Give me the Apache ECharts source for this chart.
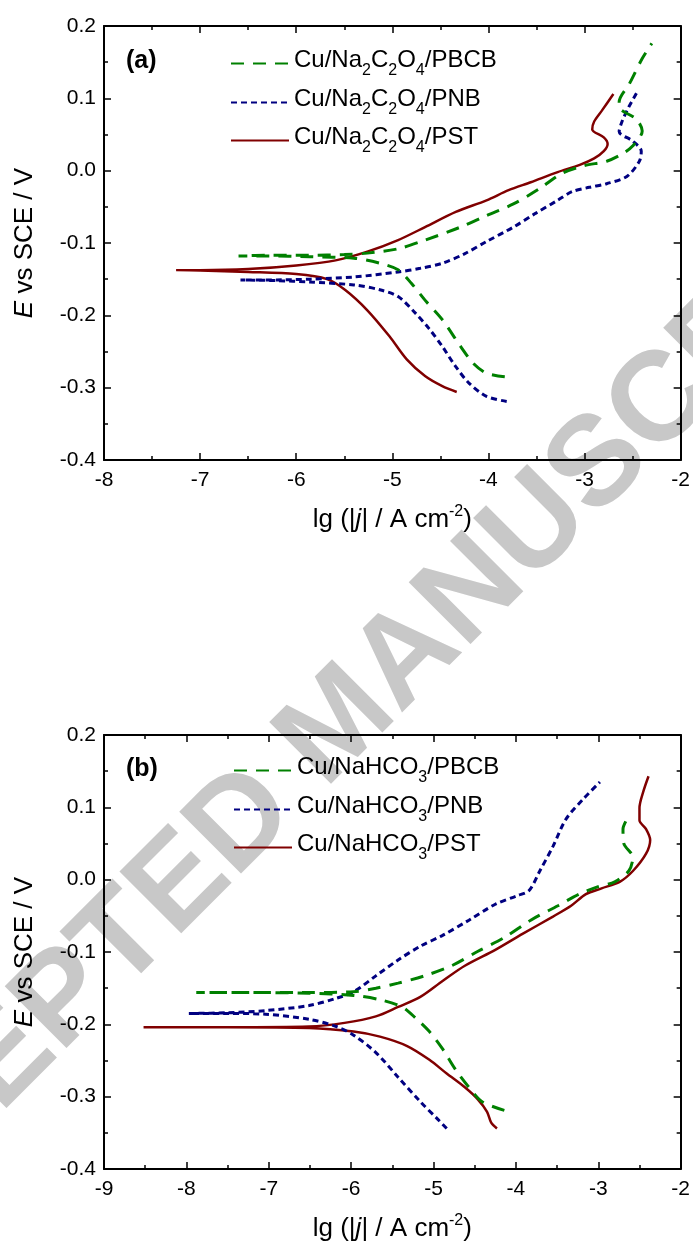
<!DOCTYPE html>
<html>
<head>
<meta charset="utf-8">
<script src="https://cdn.jsdelivr.net/npm/echarts@6/dist/echarts.min.js"></script>
<style>
html,body{margin:0;padding:0;background:#fff;}
#c{width:693px;height:1247px;}
</style>
</head>
<body>
<div id="c"></div>
<script>
// ---------- DATA ----------
// Panel (a): x = lg(|j| / A cm^-2), y = E vs SCE / V
const seriesNamesA = ['Cu/Na2C2O4/PBCB', 'Cu/Na2C2O4/PNB', 'Cu/Na2C2O4/PST'];
const seriesNamesB = ['Cu/NaHCO3/PBCB', 'Cu/NaHCO3/PNB', 'Cu/NaHCO3/PST'];

const a_PBCB = [[-3.83,-0.285],[-4.02,-0.280],[-4.16,-0.266],[-4.29,-0.243],[-4.48,-0.206],[-4.66,-0.179],[-4.80,-0.156],[-4.94,-0.137],[-5.13,-0.128],[-5.40,-0.121],[-5.86,-0.119],[-6.30,-0.118],[-6.60,-0.118],
  [-6.30,-0.117],[-5.86,-0.117],[-5.50,-0.116],[-5.26,-0.114],[-4.94,-0.108],[-4.66,-0.096],[-4.29,-0.078],[-4.02,-0.062],[-3.74,-0.046],[-3.47,-0.025],[-3.24,-0.004],[-3.00,0.007],[-2.77,0.013],[-2.61,0.023],[-2.50,0.034],[-2.40,0.055],[-2.46,0.071],[-2.64,0.088],[-2.64,0.095],[-2.53,0.121],[-2.40,0.155],[-2.30,0.176]];
const a_PNB = [[-3.81,-0.319],[-4.02,-0.312],[-4.20,-0.294],[-4.34,-0.271],[-4.48,-0.243],[-4.62,-0.218],[-4.76,-0.197],[-4.94,-0.174],[-5.12,-0.165],[-5.40,-0.158],[-5.86,-0.154],[-6.20,-0.152],[-6.58,-0.151],
  [-6.20,-0.151],[-5.86,-0.150],[-5.40,-0.147],[-4.94,-0.140],[-4.71,-0.135],[-4.48,-0.128],[-4.25,-0.115],[-4.02,-0.098],[-3.74,-0.078],[-3.51,-0.059],[-3.28,-0.041],[-3.13,-0.029],[-2.95,-0.023],[-2.77,-0.018],[-2.56,-0.008],[-2.43,0.013],[-2.41,0.027],[-2.50,0.041],[-2.64,0.054],[-2.61,0.068],[-2.54,0.088],[-2.46,0.107]];
const a_PST = [[-4.33,-0.306],[-4.48,-0.298],[-4.66,-0.284],[-4.85,-0.261],[-5.03,-0.229],[-5.26,-0.193],[-5.49,-0.165],[-5.68,-0.150],[-6.00,-0.143],[-6.50,-0.140],[-7.00,-0.138],[-7.25,-0.1375],
  [-7.00,-0.1375],[-6.50,-0.136],[-6.00,-0.131],[-5.59,-0.124],[-5.26,-0.112],[-4.94,-0.096],[-4.66,-0.078],[-4.34,-0.057],[-4.02,-0.041],[-3.79,-0.027],[-3.56,-0.016],[-3.28,-0.002],[-3.05,0.008],[-2.90,0.017],[-2.80,0.027],[-2.76,0.037],[-2.80,0.046],[-2.92,0.057],[-2.90,0.068],[-2.82,0.083],[-2.70,0.106]];

const b_PBCB = [[-4.14,-0.319],[-4.41,-0.307],[-4.57,-0.287],[-4.73,-0.263],[-4.89,-0.234],[-5.05,-0.210],[-5.22,-0.191],[-5.38,-0.176],[-5.65,-0.166],[-5.97,-0.160],[-6.51,-0.157],[-7.20,-0.156],[-7.88,-0.156],
  [-7.20,-0.156],[-6.51,-0.156],[-5.97,-0.155],[-5.70,-0.150],[-5.43,-0.143],[-5.11,-0.133],[-4.78,-0.119],[-4.46,-0.099],[-4.14,-0.080],[-3.82,-0.056],[-3.49,-0.036],[-3.23,-0.020],[-3.01,-0.010],[-2.80,-0.003],[-2.63,0.012],[-2.58,0.031],[-2.69,0.050],[-2.70,0.070],[-2.66,0.082]];
const b_PNB = [[-4.84,-0.344],[-4.95,-0.331],[-5.16,-0.307],[-5.43,-0.273],[-5.70,-0.239],[-5.97,-0.215],[-6.18,-0.203],[-6.51,-0.193],[-7.04,-0.186],[-7.50,-0.185],[-7.97,-0.185],
  [-7.50,-0.184],[-7.04,-0.181],[-6.51,-0.174],[-6.18,-0.164],[-5.97,-0.155],[-5.70,-0.133],[-5.43,-0.111],[-5.16,-0.092],[-4.89,-0.077],[-4.57,-0.056],[-4.25,-0.034],[-3.98,-0.022],[-3.84,-0.015],[-3.71,0.012],[-3.55,0.046],[-3.39,0.084],[-3.17,0.113],[-2.98,0.135]];
const b_PST = [[-4.23,-0.344],[-4.30,-0.336],[-4.35,-0.321],[-4.46,-0.304],[-4.62,-0.287],[-4.84,-0.268],[-5.05,-0.249],[-5.32,-0.230],[-5.65,-0.217],[-5.97,-0.210],[-6.51,-0.205],[-7.50,-0.204],[-8.52,-0.204],
  [-7.50,-0.204],[-6.51,-0.203],[-6.08,-0.198],[-5.70,-0.189],[-5.43,-0.176],[-5.16,-0.162],[-4.89,-0.140],[-4.62,-0.119],[-4.25,-0.097],[-3.92,-0.075],[-3.55,-0.051],[-3.33,-0.036],[-3.15,-0.020],[-2.96,-0.012],[-2.74,-0.003],[-2.58,0.012],[-2.42,0.036],[-2.37,0.055],[-2.42,0.070],[-2.50,0.082],[-2.50,0.099],[-2.45,0.123],[-2.39,0.143]];

// axis ranges / tick steps
const xRangeA = [-8, -2];
const xRangeB = [-9, -2];
const yRange = [-0.4, 0.2];
const xStep = 1, yStep = 0.1;

// legend rich labels
const legendRich = {
  'Cu/Na2C2O4/PBCB': '{n|Cu/Na}{s|2}{n|C}{s|2}{n|O}{s|4}{n|/PBCB}',
  'Cu/Na2C2O4/PNB':  '{n|Cu/Na}{s|2}{n|C}{s|2}{n|O}{s|4}{n|/PNB}',
  'Cu/Na2C2O4/PST':  '{n|Cu/Na}{s|2}{n|C}{s|2}{n|O}{s|4}{n|/PST}',
  'Cu/NaHCO3/PBCB': '{n|Cu/NaHCO}{s|3}{n|/PBCB}',
  'Cu/NaHCO3/PNB':  '{n|Cu/NaHCO}{s|3}{n|/PNB}',
  'Cu/NaHCO3/PST':  '{n|Cu/NaHCO}{s|3}{n|/PST}'
};

// ---------- STYLE ----------
const FONT = '"Liberation Sans", Arial, sans-serif';
const colors = ['#008000', '#000080', '#800000'];
const lineStyles = [
  {width: 3, type: [13, 9], cap: 'butt'},
  {width: 3, type: [6, 4], cap: 'butt'},
  {width: 2.5, type: 'solid'}
];
const gridsPx = [
  {left: 104, top: 26, width: 577, height: 434},
  {left: 104, top: 735, width: 577, height: 434}
];

function fmtY(v){ if (Math.abs(v) < 1e-9) return '0.0'; return v.toFixed(1); }

const axisLine = {show: true, onZero: false, lineStyle: {color: '#000', width: 2}};
const axisTick = {show: true, inside: true, length: 7, lineStyle: {color: '#000', width: 1.5}};
const minorTick = {show: true, splitNumber: 2, length: 4, lineStyle: {color: '#000', width: 1.5}};

const xAxes = [], yAxes = [];
[xRangeA, xRangeB].forEach((xr, g) => {
  xAxes.push({
    type: 'value', gridIndex: g, position: 'bottom', min: xr[0], max: xr[1], interval: xStep,
    axisLine, axisTick, minorTick, splitLine: {show: false},
    axisLabel: {color: '#000', fontSize: 21, fontFamily: FONT, margin: 10},
    name: '{n|lg (|}{i|j}{n|| / A cm}{sup|-2}{n|)}',
    nameLocation: 'middle', nameGap: 44,
    nameTextStyle: {
      color: '#000', fontFamily: FONT, fontSize: 26,
      rich: {
        n: {fontSize: 26, fontFamily: FONT, color: '#000', verticalAlign: 'bottom'},
        i: {fontSize: 26, fontFamily: FONT, color: '#000', fontStyle: 'italic', verticalAlign: 'bottom'},
        sup: {fontSize: 16, fontFamily: FONT, color: '#000', verticalAlign: 'top', padding: [0, 0, 13, 0]}
      }
    }
  });
  xAxes.push({
    type: 'value', gridIndex: g, position: 'top', min: xr[0], max: xr[1], interval: xStep,
    axisLine, axisTick, minorTick, splitLine: {show: false}, axisLabel: {show: false}
  });
  yAxes.push({
    type: 'value', gridIndex: g, position: 'left', min: yRange[0], max: yRange[1], interval: yStep,
    axisLine, axisTick, minorTick, splitLine: {show: false},
    axisLabel: {color: '#000', fontSize: 21, fontFamily: FONT, margin: 8, formatter: fmtY},
    name: '{i|E}{n| vs SCE / V}',
    nameLocation: 'middle', nameGap: 66,
    nameTextStyle: {
      color: '#000', fontFamily: FONT, fontSize: 26,
      rich: {
        n: {fontSize: 26, fontFamily: FONT, color: '#000'},
        i: {fontSize: 26, fontFamily: FONT, color: '#000', fontStyle: 'italic'}
      }
    }
  });
  yAxes.push({
    type: 'value', gridIndex: g, position: 'right', min: yRange[0], max: yRange[1], interval: yStep,
    axisLine, axisTick, minorTick, splitLine: {show: false}, axisLabel: {show: false}
  });
});

const series = [];
const dataA = [a_PBCB, a_PNB, a_PST];
const dataB = [b_PBCB, b_PNB, b_PST];
[dataA, dataB].forEach((set, g) => {
  const names = g === 0 ? seriesNamesA : seriesNamesB;
  set.forEach((d, k) => {
    series.push({
      type: 'line', name: names[k], data: d,
      xAxisIndex: g * 2, yAxisIndex: g * 2,
      symbol: 'none', smooth: 0.3, animation: false,
      color: colors[k],
      lineStyle: Object.assign({color: colors[k]}, lineStyles[k]),
      z: 3 + (2 - k)
    });
  });
});

const legendRows = [[48, 87, 125], [755, 794, 832]];
const legendLeft = [230, 233];
const legends = [];
[seriesNamesA, seriesNamesB].forEach((names, g) => {
  names.forEach((nm, k) => {
    legends.push({
      data: [nm], orient: 'vertical', left: legendLeft[g], top: legendRows[g][k],
      padding: 0, itemWidth: 58, itemHeight: 14, itemGap: 0, selectedMode: false,
      itemStyle: {opacity: 0},
      formatter: (name) => legendRich[name],
      textStyle: {
        color: '#000', fontFamily: FONT, fontSize: 24,
        rich: {
          n: {fontSize: 24, fontFamily: FONT, color: '#000', verticalAlign: 'top'},
          s: {fontSize: 16, fontFamily: FONT, color: '#000', verticalAlign: 'bottom', padding: [15, 0, 0, 0]}
        }
      }
    });
  });
});

const chart = echarts.init(document.getElementById('c'), null, {renderer: 'canvas'});
chart.setOption({
  backgroundColor: '#fff',
  animation: false,
  title: [
    {text: '(a)', left: 126, top: 49, padding: 0, textStyle: {fontSize: 25, fontWeight: 'bold', fontFamily: FONT, color: '#000'}},
    {text: '(b)', left: 126, top: 757, padding: 0, textStyle: {fontSize: 25, fontWeight: 'bold', fontFamily: FONT, color: '#000'}}
  ],
  graphic: {
    elements: [{
      type: 'text', x: 340, y: 725, rotation: Math.PI / 4, z: -10, silent: true,
      style: {text: 'ACCEPTED MANUSCRIPT', font: 'bold 127px "Liberation Sans", Arial, sans-serif',
              fill: '#c8c8c8', align: 'center', verticalAlign: 'middle'}
    }]
  },
  legend: legends,
  grid: gridsPx,
  xAxis: xAxes,
  yAxis: yAxes,
  series
});
</script>
</body>
</html>
